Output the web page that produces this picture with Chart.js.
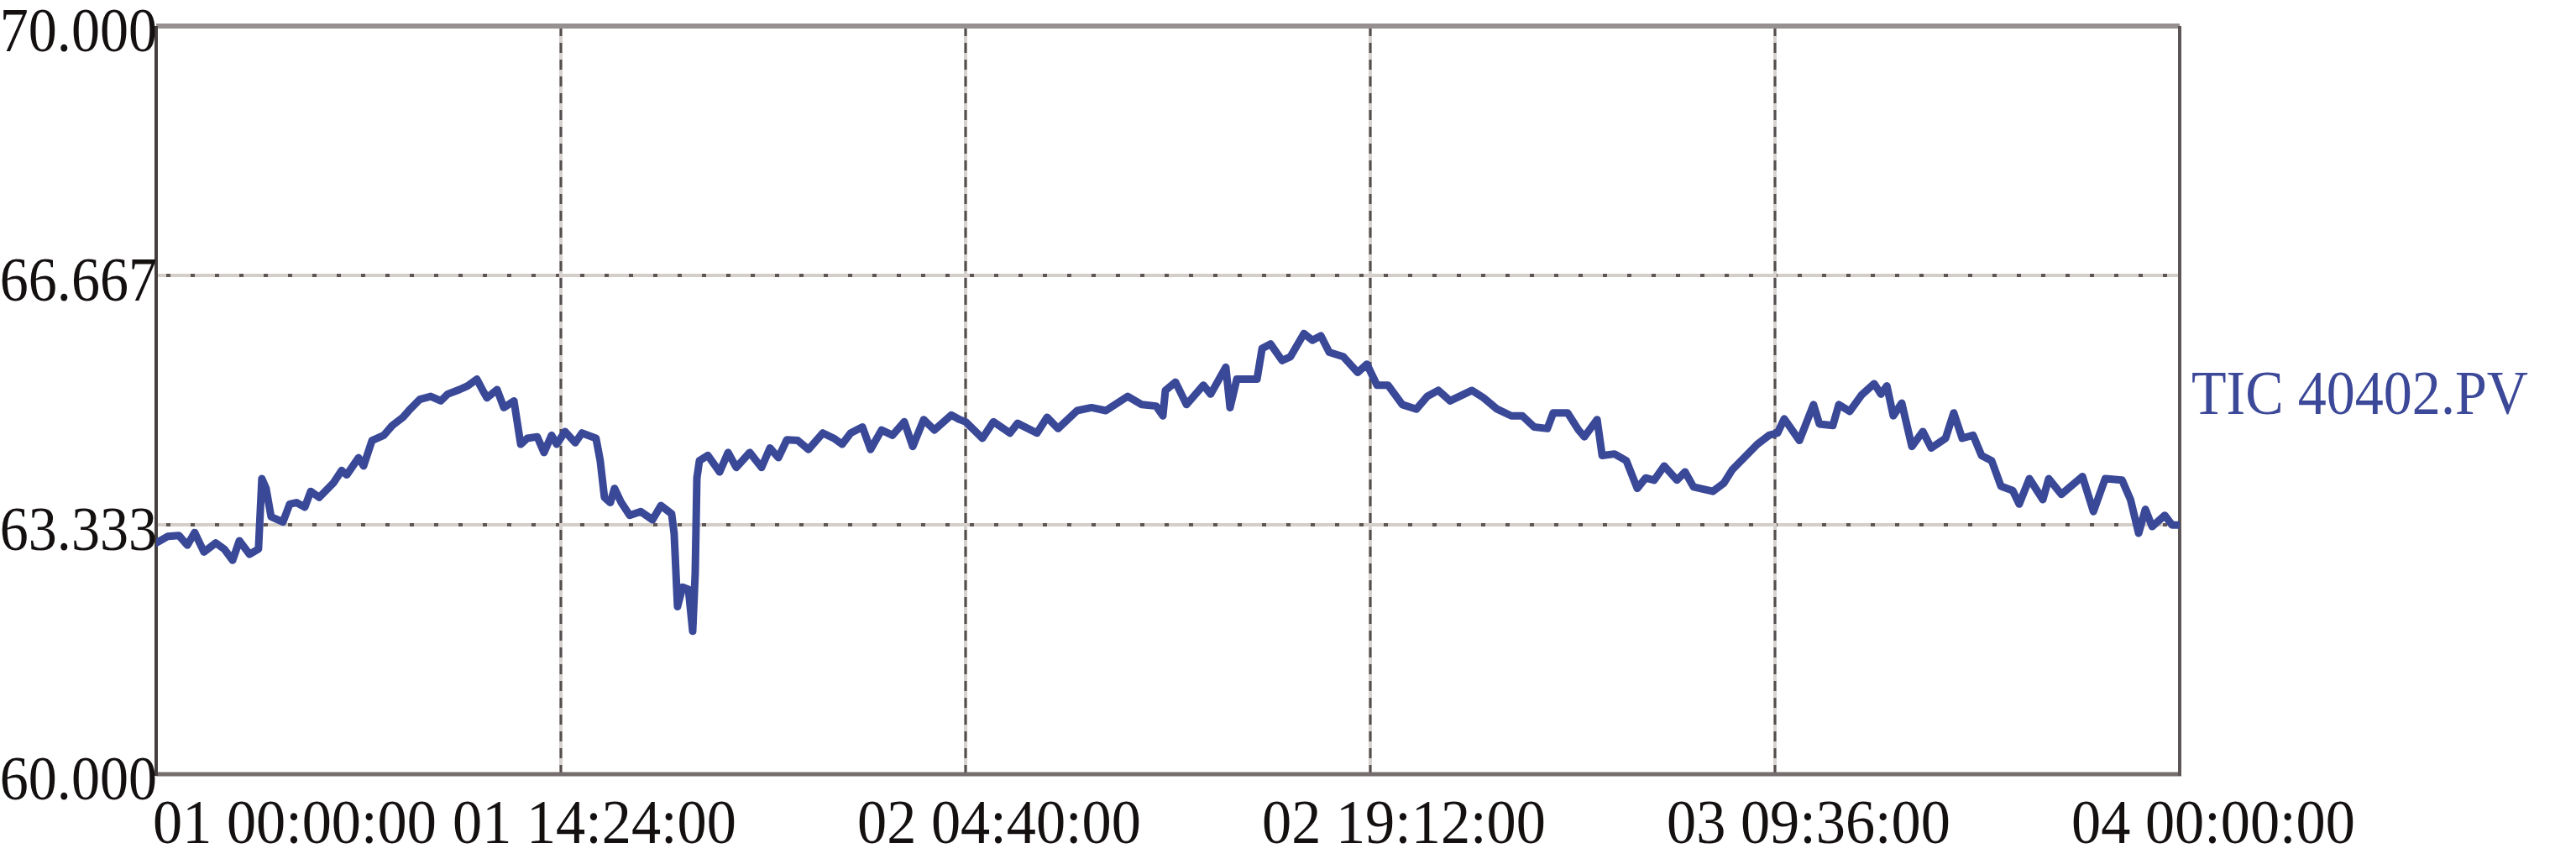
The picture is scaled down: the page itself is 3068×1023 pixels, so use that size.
<!DOCTYPE html>
<html>
<head>
<meta charset="utf-8">
<script src="https://cdn.jsdelivr.net/npm/chart.js@4.4.1/dist/chart.umd.min.js"></script>
<style>
  html, body { margin: 0; padding: 0; background: #fff; }
  #wrap { width: 3068px; height: 1023px; position: relative; }
</style>
</head>
<body>
<div id="wrap"><canvas id="trendChart"></canvas></div>
<script>
// time axis: hours since "01 00:00:00"
const hours = [
  0.00, 0.42, 0.81, 1.11, 1.37, 1.70, 2.12, 2.42, 2.72, 2.96, 3.32, 3.64, 3.76, 3.91, 4.09, 4.51,
  4.75, 4.99, 5.29, 5.50, 5.80, 6.30, 6.60, 6.78, 7.20, 7.38, 7.68, 8.10, 8.40, 8.78, 8.99, 9.38,
  9.77, 10.13, 10.37, 10.79, 11.08, 11.41, 11.62, 11.77, 12.13, 12.37, 12.73, 12.97, 13.21, 13.56,
  13.80, 14.07, 14.25, 14.55, 14.91, 15.15, 15.65, 15.80, 15.95, 16.16, 16.31, 16.55, 16.85, 17.24,
  17.66, 17.96, 18.34, 18.43, 18.55, 18.73, 18.94, 19.09, 19.18, 19.24, 19.33, 19.63, 20.05, 20.35,
  20.64, 21.12, 21.54, 21.84, 22.14, 22.44, 22.83, 23.21, 23.72, 24.11, 24.41, 24.71, 25.13, 25.42,
  25.81, 26.20, 26.62, 26.92, 27.31, 27.69, 28.29, 28.59, 28.80, 29.40, 29.79, 30.38, 30.65, 31.34,
  31.70, 32.09, 32.77, 33.28, 33.79, 34.57, 35.07, 35.58, 35.82, 35.91, 36.27, 36.66, 37.26, 37.52,
  38.06, 38.21, 38.45, 39.17, 39.35, 39.65, 40.06, 40.36, 40.84, 41.14, 41.44, 41.74, 42.24, 42.75,
  43.08, 43.44, 43.83, 44.34, 44.84, 45.23, 45.62, 46.04, 46.82, 47.23, 47.71, 48.22, 48.61, 49.03,
  49.50, 49.71, 50.22, 50.61, 50.82, 51.27, 51.45, 51.89, 52.31, 52.70, 53.00, 53.30, 53.66, 54.11,
  54.40, 54.70, 55.39, 55.78, 56.08, 56.50, 56.97, 57.39, 57.69, 57.93, 58.47, 58.97, 59.18, 59.66,
  59.87, 60.26, 60.68, 61.13, 61.37, 61.58, 61.81, 62.11, 62.47, 62.86, 63.16, 63.67, 63.96, 64.26,
  64.65, 64.95, 65.31, 65.64, 66.06, 66.29, 66.65, 67.13, 67.34, 67.79, 68.54, 68.93, 69.35, 69.95,
  70.25, 70.54, 70.78, 71.02, 71.47, 71.73, 72.00
];

const tic40402 = [
  63.09, 63.18, 63.19, 63.06, 63.23, 62.97, 63.09, 63.01, 62.86, 63.12, 62.94, 63.01, 63.95, 63.82, 63.44, 63.37,
  63.61, 63.63, 63.57, 63.78, 63.70, 63.89, 64.06, 64.00, 64.23, 64.12, 64.46, 64.53, 64.66, 64.77, 64.86, 65.01,
  65.05, 64.99, 65.08, 65.14, 65.19, 65.28, 65.13, 65.03, 65.14, 64.90, 64.99, 64.41, 64.49, 64.51,
  64.30, 64.53, 64.41, 64.58, 64.43, 64.56, 64.49, 64.19, 63.70, 63.63, 63.82, 63.63, 63.46, 63.51,
  63.40, 63.59, 63.48, 63.22, 62.24, 62.50, 62.47, 61.91, 62.69, 63.96, 64.19, 64.26, 64.04, 64.30,
  64.10, 64.30, 64.10, 64.36, 64.23, 64.47, 64.46, 64.34, 64.56, 64.49, 64.41, 64.56, 64.64, 64.34,
  64.60, 64.53, 64.71, 64.38, 64.74, 64.60, 64.80, 64.74, 64.71, 64.49, 64.71, 64.56, 64.69, 64.56,
  64.77, 64.62, 64.86, 64.90, 64.86, 65.05, 64.94, 64.92, 64.79, 65.13, 65.24, 64.94, 65.20, 65.08,
  65.44, 64.90, 65.28, 65.28, 65.69, 65.75, 65.53, 65.58, 65.89, 65.80, 65.86, 65.64, 65.58, 65.37,
  65.48, 65.20, 65.20, 64.94, 64.88, 65.05, 65.13, 64.99, 65.13, 65.03, 64.88, 64.79, 64.79, 64.64,
  64.62, 64.83, 64.83, 64.60, 64.51, 64.74, 64.26, 64.28, 64.19, 63.82, 63.96, 63.93, 64.12, 63.93,
  64.04, 63.84, 63.78, 63.89, 64.07, 64.23, 64.41, 64.53, 64.56, 64.75, 64.46, 64.94, 64.68, 64.66,
  64.94, 64.85, 65.07, 65.22, 65.08, 65.19, 64.79, 64.96, 64.38, 64.58, 64.36, 64.49, 64.83, 64.49,
  64.53, 64.26, 64.19, 63.85, 63.79, 63.61, 63.95, 63.67, 63.95, 63.74, 63.98, 63.51, 63.95, 63.93,
  63.67, 63.22, 63.54, 63.31, 63.46, 63.33, 63.33
];

const xTickHours = [0, 14.4, 28.8, 43.2, 57.6, 72];
const xTickLabels = ['01 00:00:00', '01 14:24:00', '02 04:40:00', '02 19:12:00', '03 09:36:00', '04 00:00:00'];
const yTickValues = [60, 63.333, 66.667, 70];
const yTickLabels = ['60.000', '63.333', '66.667', '70.000'];
const seriesName = 'TIC 40402.PV';

const FONT = '74px "Liberation Serif", "Times New Roman", serif';
const LINE_COLOR = 'rgb(58, 72, 152)';

// the labels in the original are a narrow, tall serif: squeeze the width a little
function drawText(ctx, text, x, y, align, squeeze) {
    ctx.save();
    ctx.translate(x, y);
    ctx.scale(squeeze || 0.92, 1);
    ctx.textAlign = align;
    ctx.fillText(text, 0, 0);
    ctx.restore();
}

// grid, frame, tick labels and the series name, placed with the chart's own scales
const framePlugin = {
    id: 'frame',
    beforeDatasetsDraw(chart) {
        const ctx = chart.ctx;
        const area = chart.chartArea;
        const xs = chart.scales.x;
        const ys = chart.scales.y;
        ctx.save();

        // horizontal grid: light line with dark dots
        yTickValues.forEach((v, i) => {
            if (i === 0 || i === yTickValues.length - 1) return;
            const y = Math.round(ys.getPixelForValue(v));
            ctx.setLineDash([]);
            ctx.strokeStyle = 'rgb(212, 206, 200)';
            ctx.lineWidth = 4;
            ctx.beginPath(); ctx.moveTo(area.left, y); ctx.lineTo(area.right, y); ctx.stroke();
            ctx.setLineDash([5, 24]);
            ctx.lineDashOffset = -12;
            ctx.strokeStyle = 'rgb(95, 85, 85)';
            ctx.beginPath(); ctx.moveTo(area.left, y); ctx.lineTo(area.right, y); ctx.stroke();
        });

        // vertical grid: light line with dark dashes
        xTickHours.forEach((h, i) => {
            if (i === 0 || i === xTickHours.length - 1) return;
            const x = Math.round(xs.getPixelForValue(h));
            ctx.setLineDash([]);
            ctx.strokeStyle = 'rgb(215, 210, 206)';
            ctx.lineWidth = 4;
            ctx.beginPath(); ctx.moveTo(x, area.top); ctx.lineTo(x, area.bottom); ctx.stroke();
            ctx.setLineDash([12, 8]);
            ctx.lineDashOffset = 0;
            ctx.strokeStyle = 'rgb(85, 78, 78)';
            ctx.lineWidth = 3;
            ctx.beginPath(); ctx.moveTo(x, area.top); ctx.lineTo(x, area.bottom); ctx.stroke();
        });

        ctx.setLineDash([]);
        // top border
        ctx.strokeStyle = 'rgb(150, 144, 144)';
        ctx.lineWidth = 6;
        ctx.beginPath(); ctx.moveTo(area.left, area.top); ctx.lineTo(area.right, area.top); ctx.stroke();
        // bottom axis
        ctx.strokeStyle = 'rgb(118, 110, 110)';
        ctx.lineWidth = 5;
        ctx.beginPath(); ctx.moveTo(area.left, area.bottom); ctx.lineTo(area.right + 2, area.bottom); ctx.stroke();
        // left axis
        ctx.strokeStyle = 'rgb(68, 62, 62)';
        ctx.lineWidth = 4;
        ctx.beginPath(); ctx.moveTo(area.left, area.top); ctx.lineTo(area.left, area.bottom + 2); ctx.stroke();
        // right border
        ctx.strokeStyle = 'rgb(92, 86, 86)';
        ctx.lineWidth = 4;
        ctx.beginPath(); ctx.moveTo(area.right, area.top); ctx.lineTo(area.right, area.bottom + 2); ctx.stroke();
        ctx.restore();
    },
    afterDraw(chart) {
        const ctx = chart.ctx;
        const area = chart.chartArea;
        const xs = chart.scales.x;
        const ys = chart.scales.y;
        ctx.save();
        ctx.font = FONT;
        ctx.fillStyle = '#141010';
        ctx.textBaseline = 'alphabetic';

        yTickValues.forEach((v, i) => {
            drawText(ctx, yTickLabels[i], area.left + 1, ys.getPixelForValue(v) + 30, 'right');
        });

        xTickHours.forEach((h, i) => {
            const x = xs.getPixelForValue(h);
            if (i === 0) {
                drawText(ctx, xTickLabels[i], x - 4, 1004, 'left', 0.95);
            } else {
                drawText(ctx, xTickLabels[i], x + 40, 1004, 'center', 0.95);
            }
        });

        // series name to the right of the plot
        ctx.fillStyle = 'rgb(60, 72, 152)';
        drawText(ctx, chart.data.datasets[0].label, area.right + 14, area.top + 0.518 * (area.bottom - area.top), 'left');
        ctx.restore();
    }
};

const points = hours.map((h, i) => ({ x: h, y: tic40402[i] }));

new Chart(document.getElementById('trendChart').getContext('2d'), {
    type: 'line',
    data: {
        datasets: [{
            label: seriesName,
            data: points,
            borderColor: LINE_COLOR,
            backgroundColor: LINE_COLOR,
            borderWidth: 9,
            pointRadius: 0,
            tension: 0,
            fill: false,
            borderJoinStyle: 'round',
            borderCapStyle: 'round'
        }]
    },
    options: {
        responsive: true,
        maintainAspectRatio: false,
        animation: false,
        layout: { padding: { top: 31, right: 472, left: 0, bottom: 0 } },
        plugins: {
            legend: { display: false },
            tooltip: { enabled: false }
        },
        scales: {
            x: {
                type: 'linear',
                min: 0,
                max: 72,
                afterBuildTicks: scale => { scale.ticks = xTickHours.map(v => ({ value: v })); },
                afterFit: scale => { scale.height = 101; scale.paddingLeft = 0; scale.paddingRight = 0; },
                ticks: { display: false },
                grid: { display: false },
                border: { display: false }
            },
            y: {
                min: 60,
                max: 70,
                afterBuildTicks: scale => { scale.ticks = yTickValues.map(v => ({ value: v })); },
                afterFit: scale => { scale.width = 186; scale.paddingTop = 0; scale.paddingBottom = 0; },
                ticks: { display: false },
                grid: { display: false, drawTicks: false },
                border: { display: false }
            }
        }
    },
    plugins: [framePlugin]
});
</script>
</body>
</html>
